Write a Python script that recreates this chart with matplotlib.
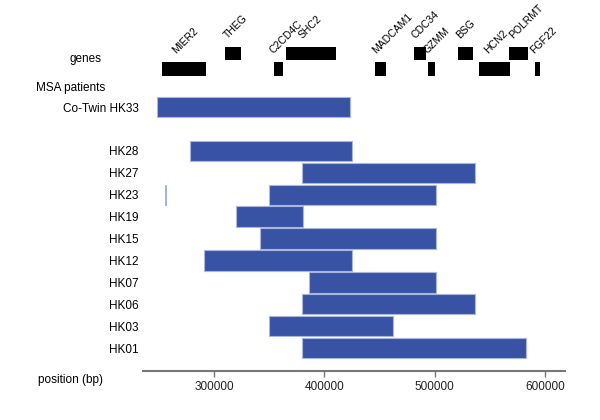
import matplotlib
matplotlib.use("Agg")
import matplotlib.pyplot as plt
from matplotlib.transforms import blended_transform_factory

plt.rcParams['font.family'] = ['Liberation Sans', 'DejaVu Sans']

# Genes: name, start, end, row (1 = upper, 0 = lower)
gene_names = ["MIER2", "THEG", "C2CD4C", "SHC2", "MADCAM1", "CDC34", "GZMM",
              "BSG", "HCN2", "POLRMT", "FGF22"]
gene_start = [253000, 309800, 353900, 365100, 445800, 481200, 493900,
              521200, 540300, 567600, 590900]
gene_end = [292700, 324500, 362500, 410300, 455800, 492400, 500000,
            534200, 568200, 584800, 595200]
gene_row = [0, 1, 0, 1, 0, 1, 0, 1, 0, 1, 0]

# Patients (top to bottom)
patients = ["Co-Twin HK33", "HK28", "HK27", "HK23", "HK19", "HK15", "HK12",
            "HK07", "HK06", "HK03", "HK01"]
seg_start = [248200, 278000, 379500, 349500, 319500, 341800, 290500,
             386000, 379500, 349500, 379500]
seg_end = [422700, 424500, 536400, 500900, 380600, 500900, 424500,
           500900, 536400, 461800, 582700]
# extra small segments
extra_patient = ["HK23"]
extra_start = [255500]
extra_end = [256600]

xticks = [300000, 400000, 500000, 600000]

fig = plt.figure(figsize=(6, 4.2), dpi=100)
ax = fig.add_axes([143/600, (420-371)/420, (565-143)/600, (371-20)/420])
ax.set_xlim(235500, 618000)
ax.set_ylim(-1.05, 14.98)

ypos = {}
for i, p in enumerate(patients[1:]):
    ypos[p] = 9 - i
ypos[patients[0]] = 11

bar_color = "#3953a4"
edge_color = "#a9b6e0"
for p, s, e in zip(patients, seg_start, seg_end):
    ax.barh(ypos[p], e - s, left=s, height=0.93, color=bar_color,
            edgecolor=edge_color, linewidth=0.8)
for p, s, e in zip(extra_patient, extra_start, extra_end):
    ax.barh(ypos[p], e - s, left=s, height=0.93, color=bar_color,
            edgecolor=edge_color, linewidth=0.6)

row_y = {1: 13.45, 0: 12.74}
row_h = {1: 0.6, 0: 0.64}
for n, s, e, r in zip(gene_names, gene_start, gene_end, gene_row):
    ax.barh(row_y[r], e - s, left=s, height=row_h[r], color="black")
    w = e - s
    tx = s + max(0.4 * w - 2000, 0)
    ty = row_y[r] + row_h[r] / 2 + 0.3
    ax.text(tx, ty, n, rotation=45, rotation_mode='anchor', ha='left',
            va='bottom', fontsize=7.5, color="black")

ax.set_yticks([ypos[p] for p in patients])
ax.set_yticklabels(patients, fontsize=8.5)
ax.tick_params(axis='y', length=0, pad=3)

ax.set_xticks(xticks)
ax.set_xticklabels([str(t) for t in xticks], fontsize=8.5, color="#222222")
ax.tick_params(axis='x', direction='out', length=4, width=1.0,
               color="#777777", pad=3)

for sp in ["top", "right", "left"]:
    ax.spines[sp].set_visible(False)
ax.spines["bottom"].set_color("#777777")
ax.spines["bottom"].set_linewidth(1.5)

tr = blended_transform_factory(fig.transFigure, ax.transData)
ax.text(86/600, row_y[0] + 0.45, "genes", transform=tr, ha='center',
        va='center', fontsize=8.5)
ax.text(36/600, 11.87, "MSA patients", transform=tr, ha='left',
        va='center', fontsize=8.5)
fig.text(71/600, (420-380)/420, "position (bp)", ha='center', va='center',
         fontsize=8.5)

fig.savefig("out.png", dpi=100)
